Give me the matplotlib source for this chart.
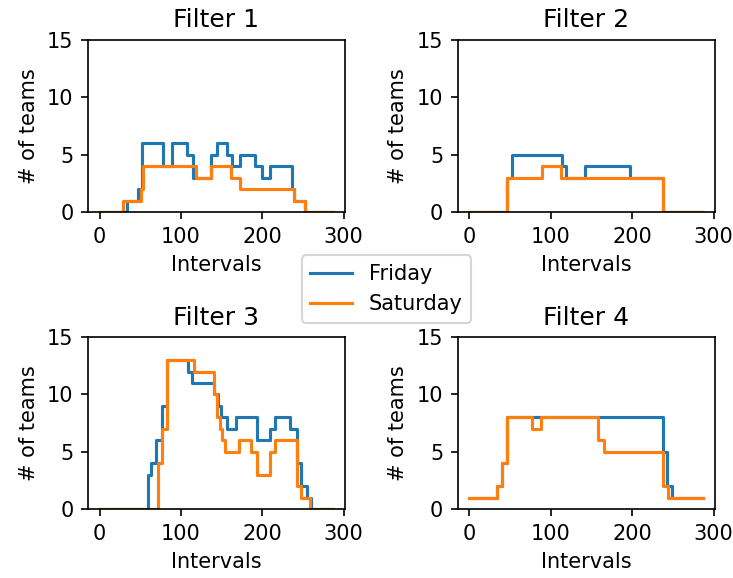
import numpy as np
import matplotlib
matplotlib.use("Agg")
import matplotlib.pyplot as plt

## step change points (interval index where value starts) and values
titles = ["Filter 1", "Filter 2", "Filter 3", "Filter 4"]
last_interval = 287

f1_fri_x = [0, 34, 47, 52, 78, 89, 107, 115, 137, 139, 144, 156, 163, 173, 191, 200, 210, 236, 239, 253]
f1_fri_y = [0, 1, 2, 6, 4, 6, 5, 3, 5, 5, 6, 5, 4, 5, 4, 3, 4, 2, 1, 0]
f1_sat_x = [0, 29, 51, 53, 119, 137, 162, 172, 239, 253]
f1_sat_y = [0, 1, 2, 4, 3, 4, 3, 2, 1, 0]

f2_fri_x = [0, 46, 52, 114, 119, 142, 197, 238]
f2_fri_y = [0, 3, 5, 4, 3, 4, 3, 0]
f2_sat_x = [0, 46, 89, 113, 238]
f2_sat_y = [0, 3, 4, 3, 0]

f3_fri_x = [0, 59, 63, 69, 77, 83, 108, 114, 140, 145, 149, 157, 168, 194, 210, 216, 234, 242, 248, 255, 260]
f3_fri_y = [0, 3, 4, 6, 9, 13, 12, 11, 10, 9, 8, 7, 8, 6, 7, 8, 7, 4, 2, 1, 0]
f3_sat_x = [0, 72, 77, 83, 116, 140, 144, 148, 151, 154, 171, 186, 193, 210, 216, 242, 248, 259]
f3_sat_y = [0, 4, 7, 13, 12, 10, 8, 7, 6, 5, 6, 5, 3, 5, 6, 2, 1, 0]

f4_fri_x = [0, 34, 40, 46, 238, 243, 249]
f4_fri_y = [1, 2, 4, 8, 5, 2, 1]
f4_sat_x = [0, 34, 40, 46, 77, 88, 158, 165, 238, 244]
f4_sat_y = [1, 2, 4, 8, 7, 8, 6, 5, 2, 1]

fri = [(f1_fri_x, f1_fri_y), (f2_fri_x, f2_fri_y), (f3_fri_x, f3_fri_y), (f4_fri_x, f4_fri_y)]
sat = [(f1_sat_x, f1_sat_y), (f2_sat_x, f2_sat_y), (f3_sat_x, f3_sat_y), (f4_sat_x, f4_sat_y)]

fig, axes = plt.subplots(2, 2, figsize=(733 / 150, 578 / 150), dpi=150)
fig.subplots_adjust(left=0.12, right=0.975, top=0.931, bottom=0.119, wspace=0.44, hspace=0.727)

for ax, title, (fx, fy), (sx, sy) in zip(axes.flat, titles, fri, sat):
    ax.plot(fx + [last_interval], fy + [fy[-1]], drawstyle="steps-post", color="#1f77b4", label="Friday")
    ax.plot(sx + [last_interval], sy + [sy[-1]], drawstyle="steps-post", color="#ff7f0e", label="Saturday")
    ax.set_title(title)
    ax.set_xlabel("Intervals")
    ax.set_ylabel("# of teams")
    ax.set_ylim(0, 15)
    ax.set_xticks([0, 100, 200, 300])
    ax.set_yticks([0, 5, 10, 15])

handles, labels = axes[0, 0].get_legend_handles_labels()
fig.legend(handles, labels, loc="center", bbox_to_anchor=(0.527, 0.5))

fig.savefig("out.png", dpi=150)
